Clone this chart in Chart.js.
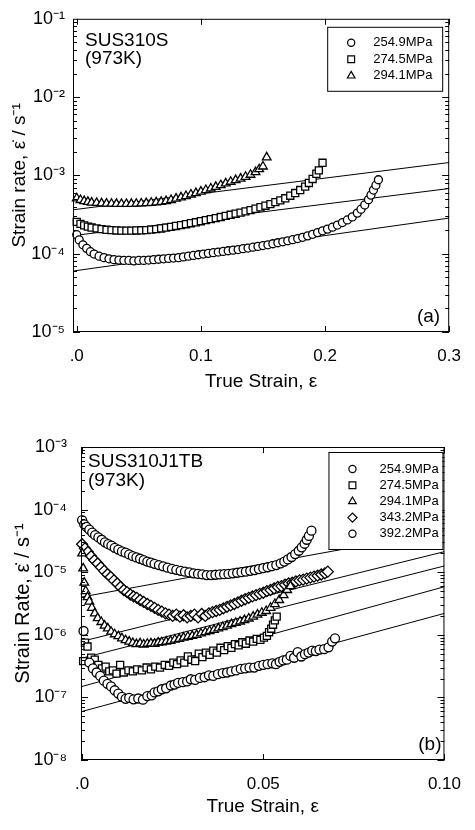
<!DOCTYPE html>
<html>
<head>
<meta charset="utf-8">
<script src="https://cdn.jsdelivr.net/npm/chart.js@4.4.1/dist/chart.umd.min.js"></script>
<style>
  html, body { margin: 0; padding: 0; background: #fff; }
  canvas { display: block; }
</style>
</head>
<body>
<canvas id="chartA" width="475" height="415"></canvas>
<canvas id="chartB" width="475" height="415"></canvas>
<script>
// ---- panel (a): SUS310S, 973K ----
const stressLabelsA = ["254.9MPa", "274.5MPa", "294.1MPa"];
const xTicksA = [0, 0.1, 0.2, 0.3];
const xTickLabelsA = [".0", "0.1", "0.2", "0.3"];
const yTicksA = [1e-5, 1e-4, 1e-3, 1e-2, 1e-1];
const yTickLabelsA = ["10⁻⁵", "10⁻⁴", "10⁻³", "10⁻²", "10⁻¹"];

const a254 = [
  [0.000, 1.75e-4], [0.002, 1.5e-4], [0.005, 1.3e-4], [0.008, 1.17e-4], [0.011, 1.06e-4],
  [0.014, 9.9e-5], [0.018, 9.3e-5], [0.022, 8.9e-5], [0.026, 8.6e-5], [0.030, 8.4e-5],
  [0.034, 8.3e-5], [0.038, 8.2e-5], [0.042, 8.2e-5], [0.046, 8.1e-5], [0.050, 8.2e-5],
  [0.054, 8.2e-5], [0.058, 8.3e-5], [0.062, 8.4e-5], [0.066, 8.5e-5], [0.070, 8.6e-5],
  [0.074, 8.7e-5], [0.078, 8.8e-5], [0.082, 8.9e-5], [0.086, 9.1e-5], [0.090, 9.3e-5],
  [0.094, 9.5e-5], [0.098, 9.7e-5], [0.102, 9.9e-5], [0.106, 1.01e-4], [0.110, 1.03e-4],
  [0.114, 1.05e-4], [0.118, 1.07e-4], [0.122, 1.09e-4], [0.126, 1.11e-4], [0.130, 1.13e-4],
  [0.134, 1.16e-4], [0.138, 1.18e-4], [0.142, 1.21e-4], [0.146, 1.24e-4], [0.150, 1.27e-4],
  [0.154, 1.3e-4], [0.158, 1.34e-4], [0.162, 1.38e-4], [0.166, 1.42e-4], [0.170, 1.46e-4],
  [0.174, 1.51e-4], [0.178, 1.56e-4], [0.182, 1.62e-4], [0.186, 1.69e-4], [0.190, 1.77e-4],
  [0.194, 1.86e-4], [0.198, 1.96e-4], [0.202, 2.06e-4], [0.206, 2.18e-4], [0.210, 2.32e-4],
  [0.214, 2.5e-4], [0.218, 2.7e-4], [0.222, 2.95e-4], [0.226, 3.3e-4], [0.229, 3.7e-4],
  [0.232, 4.2e-4], [0.235, 4.9e-4], [0.237, 5.6e-4], [0.239, 6.5e-4], [0.241, 7.5e-4],
  [0.243, 8.8e-4]
];
const a274 = [
  [0.000, 2.55e-4], [0.003, 2.4e-4], [0.006, 2.3e-4], [0.009, 2.22e-4], [0.012, 2.16e-4],
  [0.016, 2.1e-4], [0.020, 2.06e-4], [0.024, 2.02e-4], [0.028, 2.0e-4], [0.032, 1.98e-4],
  [0.036, 1.97e-4], [0.040, 1.97e-4], [0.044, 1.97e-4], [0.048, 1.98e-4], [0.052, 1.99e-4],
  [0.056, 2.0e-4], [0.060, 2.03e-4], [0.064, 2.06e-4], [0.068, 2.1e-4], [0.072, 2.15e-4],
  [0.076, 2.2e-4], [0.080, 2.26e-4], [0.084, 2.32e-4], [0.088, 2.38e-4], [0.092, 2.45e-4],
  [0.096, 2.52e-4], [0.100, 2.6e-4], [0.104, 2.68e-4], [0.108, 2.76e-4], [0.112, 2.85e-4],
  [0.116, 2.94e-4], [0.120, 3.04e-4], [0.124, 3.14e-4], [0.128, 3.24e-4], [0.132, 3.35e-4],
  [0.136, 3.47e-4], [0.140, 3.6e-4], [0.144, 3.75e-4], [0.148, 3.92e-4], [0.152, 4.1e-4],
  [0.156, 4.3e-4], [0.160, 4.55e-4], [0.164, 4.8e-4], [0.168, 5.1e-4], [0.172, 5.5e-4],
  [0.176, 5.95e-4], [0.180, 6.5e-4], [0.184, 7.2e-4], [0.187, 8.0e-4], [0.190, 9.0e-4],
  [0.193, 1.05e-3], [0.195, 1.16e-3], [0.198, 1.45e-3]
];
const a294 = [
  [0.000, 5.1e-4], [0.003, 4.85e-4], [0.006, 4.7e-4], [0.009, 4.6e-4], [0.012, 4.5e-4],
  [0.016, 4.45e-4], [0.020, 4.4e-4], [0.024, 4.37e-4], [0.028, 4.35e-4], [0.032, 4.33e-4],
  [0.036, 4.32e-4], [0.040, 4.32e-4], [0.044, 4.33e-4], [0.048, 4.35e-4], [0.052, 4.38e-4],
  [0.056, 4.42e-4], [0.060, 4.47e-4], [0.064, 4.53e-4], [0.068, 4.6e-4], [0.072, 4.7e-4],
  [0.076, 4.85e-4], [0.080, 5.05e-4], [0.084, 5.25e-4], [0.088, 5.45e-4], [0.092, 5.7e-4],
  [0.096, 5.95e-4], [0.100, 6.2e-4], [0.104, 6.5e-4], [0.108, 6.8e-4], [0.112, 7.15e-4],
  [0.116, 7.5e-4], [0.120, 7.9e-4], [0.124, 8.3e-4], [0.128, 8.7e-4], [0.132, 9.1e-4],
  [0.136, 9.6e-4], [0.140, 1.02e-3], [0.144, 1.1e-3], [0.147, 1.2e-3], [0.150, 1.3e-3],
  [0.153, 1.7e-3]
];
// straight fit lines (end points)
const fitA254 = [[-0.003, 6.0e-5], [0.3, 2.85e-4]];
const fitA274 = [[-0.003, 1.7e-4], [0.3, 6.8e-4]];
const fitA294 = [[-0.003, 3.64e-4], [0.3, 1.46e-3]];

// ---- panel (b): SUS310J1TB, 973K ----
const stressLabelsB = ["254.9MPa", "274.5MPa", "294.1MPa", "343.2MPa", "392.2MPa"];
const xTicksB = [0, 0.05, 0.1];
const xTickLabelsB = [".0", "0.05", "0.10"];
const yTicksB = [1e-8, 1e-7, 1e-6, 1e-5, 1e-4, 1e-3];
const yTickLabelsB = ["10⁻⁸", "10⁻⁷", "10⁻⁶", "10⁻⁵", "10⁻⁴", "10⁻³"];

const b254 = [
  [0.0004, 1.15e-6], [0.0020, 3.6e-7], [0.0030, 2.9e-7], [0.0040, 2.5e-7], [0.0050, 2.2e-7],
  [0.0060, 1.85e-7], [0.0070, 1.65e-7], [0.0080, 1.5e-7], [0.0090, 1.3e-7], [0.0100, 1.15e-7],
  [0.0110, 1.02e-7], [0.0120, 9.5e-8], [0.0130, 9.8e-8], [0.0142, 9.3e-8], [0.0155, 9.6e-8],
  [0.0168, 9.2e-8], [0.0180, 1.05e-7], [0.0192, 1.08e-7], [0.0200, 1.2e-7], [0.0210, 1.25e-7],
  [0.0220, 1.35e-7], [0.0232, 1.4e-7], [0.0245, 1.55e-7], [0.0255, 1.6e-7], [0.0265, 1.7e-7],
  [0.0278, 1.75e-7], [0.0290, 1.8e-7], [0.0300, 1.95e-7], [0.0312, 1.9e-7], [0.0325, 2.05e-7],
  [0.0338, 2.1e-7], [0.0350, 2.25e-7], [0.0362, 2.2e-7], [0.0375, 2.35e-7], [0.0388, 2.45e-7],
  [0.0400, 2.5e-7], [0.0412, 2.6e-7], [0.0425, 2.7e-7], [0.0438, 2.85e-7], [0.0450, 2.9e-7],
  [0.0462, 3.0e-7], [0.0475, 3.0e-7], [0.0488, 3.2e-7], [0.0500, 3.3e-7], [0.0512, 3.4e-7],
  [0.0525, 3.5e-7], [0.0535, 3.4e-7], [0.0545, 3.7e-7], [0.0555, 3.9e-7], [0.0565, 4.0e-7],
  [0.0575, 4.6e-7], [0.0585, 4.3e-7], [0.0595, 5.3e-7], [0.0605, 4.5e-7], [0.0615, 4.9e-7],
  [0.0625, 5.2e-7], [0.0635, 5.6e-7], [0.0645, 5.5e-7], [0.0655, 5.8e-7], [0.0668, 5.9e-7],
  [0.0680, 6.3e-7], [0.0690, 7.8e-7], [0.0698, 8.8e-7]
];
const b274 = [
  [0.0003, 3.8e-7], [0.0008, 7.5e-7], [0.0015, 6.5e-7], [0.0025, 4.3e-7], [0.0035, 4.0e-7],
  [0.0045, 3.3e-7], [0.0055, 2.9e-7], [0.0065, 3.1e-7], [0.0075, 2.6e-7], [0.0085, 2.7e-7],
  [0.0095, 2.4e-7], [0.0105, 3.3e-7], [0.0115, 2.5e-7], [0.0128, 2.7e-7], [0.0140, 2.6e-7],
  [0.0152, 2.8e-7], [0.0165, 2.7e-7], [0.0178, 3.0e-7], [0.0190, 2.8e-7], [0.0202, 3.1e-7],
  [0.0215, 3.0e-7], [0.0228, 3.3e-7], [0.0240, 3.2e-7], [0.0252, 3.6e-7], [0.0262, 3.4e-7],
  [0.0272, 3.9e-7], [0.0282, 3.6e-7], [0.0292, 4.5e-7], [0.0302, 4.0e-7], [0.0312, 3.8e-7],
  [0.0322, 5.0e-7], [0.0332, 4.4e-7], [0.0342, 5.2e-7], [0.0352, 4.8e-7], [0.0362, 5.6e-7],
  [0.0372, 5.2e-7], [0.0382, 6.2e-7], [0.0392, 5.7e-7], [0.0402, 6.6e-7], [0.0412, 6.2e-7],
  [0.0422, 7.1e-7], [0.0432, 6.8e-7], [0.0442, 7.6e-7], [0.0452, 7.2e-7], [0.0462, 8.1e-7],
  [0.0472, 7.8e-7], [0.0482, 8.6e-7], [0.0492, 8.3e-7], [0.0502, 9.0e-7], [0.0510, 9.6e-7],
  [0.0516, 1.1e-6], [0.0522, 1.25e-6], [0.0527, 1.45e-6], [0.0532, 1.7e-6], [0.0537, 1.95e-6]
];
const b294 = [
  [0.0000, 2.0e-5], [0.0003, 1.15e-5], [0.0006, 6.8e-6], [0.0010, 5.0e-6], [0.0015, 4.0e-6],
  [0.0020, 3.4e-6], [0.0027, 2.7e-6], [0.0035, 2.2e-6], [0.0043, 1.85e-6], [0.0053, 1.6e-6],
  [0.0062, 1.4e-6], [0.0071, 1.27e-6], [0.0080, 1.12e-6], [0.0090, 1.02e-6], [0.0100, 9.5e-7],
  [0.0110, 8.8e-7], [0.0120, 8.2e-7], [0.0130, 7.8e-7], [0.0140, 7.4e-7], [0.0150, 7.1e-7],
  [0.0160, 7.3e-7], [0.0170, 7.0e-7], [0.0180, 7.2e-7], [0.0190, 7.3e-7], [0.0200, 7.2e-7],
  [0.0210, 7.5e-7], [0.0220, 7.6e-7], [0.0232, 7.8e-7], [0.0244, 8.0e-7], [0.0256, 8.4e-7],
  [0.0268, 8.6e-7], [0.0280, 9.0e-7], [0.0292, 9.3e-7], [0.0304, 9.6e-7], [0.0316, 1.0e-6],
  [0.0328, 1.05e-6], [0.0340, 1.1e-6], [0.0352, 1.15e-6], [0.0364, 1.2e-6], [0.0376, 1.27e-6],
  [0.0388, 1.33e-6], [0.0400, 1.4e-6], [0.0412, 1.48e-6], [0.0424, 1.55e-6], [0.0436, 1.63e-6],
  [0.0448, 1.72e-6], [0.0460, 1.82e-6], [0.0472, 1.95e-6], [0.0484, 2.1e-6], [0.0496, 2.25e-6],
  [0.0508, 2.4e-6], [0.0520, 2.7e-6], [0.0532, 3.1e-6], [0.0544, 3.6e-6], [0.0556, 4.3e-6],
  [0.0566, 5.2e-6], [0.0575, 6.0e-6]
];
const b343 = [
  [0.0000, 2.8e-5], [0.0008, 2.4e-5], [0.0016, 2.1e-5], [0.0025, 1.8e-5], [0.0034, 1.55e-5],
  [0.0043, 1.38e-5], [0.0052, 1.2e-5], [0.0061, 1.05e-5], [0.0070, 9.3e-6], [0.0079, 8.4e-6],
  [0.0088, 7.4e-6], [0.0097, 6.6e-6], [0.0106, 5.8e-6], [0.0115, 5.2e-6], [0.0124, 4.8e-6],
  [0.0133, 4.4e-6], [0.0142, 4.1e-6], [0.0151, 3.9e-6], [0.0160, 3.6e-6], [0.0170, 3.35e-6],
  [0.0180, 3.1e-6], [0.0190, 2.9e-6], [0.0200, 2.7e-6], [0.0210, 2.5e-6], [0.0220, 2.35e-6],
  [0.0230, 2.2e-6], [0.0240, 2.1e-6], [0.0250, 2.0e-6], [0.0260, 2.1e-6], [0.0270, 1.95e-6],
  [0.0280, 2.05e-6], [0.0290, 1.9e-6], [0.0300, 2.0e-6], [0.0310, 2.1e-6], [0.0320, 1.9e-6],
  [0.0330, 2.15e-6], [0.0340, 2.0e-6], [0.0350, 2.2e-6], [0.0360, 2.3e-6], [0.0370, 2.4e-6],
  [0.0380, 2.5e-6], [0.0390, 2.65e-6], [0.0400, 2.8e-6], [0.0410, 2.95e-6], [0.0420, 3.1e-6],
  [0.0430, 3.3e-6], [0.0440, 3.5e-6], [0.0450, 3.7e-6], [0.0460, 3.9e-6], [0.0470, 4.1e-6],
  [0.0480, 4.3e-6], [0.0490, 4.5e-6], [0.0500, 4.7e-6], [0.0510, 5.0e-6], [0.0520, 5.2e-6],
  [0.0530, 5.5e-6], [0.0540, 5.8e-6], [0.0550, 6.0e-6], [0.0560, 6.3e-6], [0.0570, 6.6e-6],
  [0.0580, 6.8e-6], [0.0590, 7.1e-6], [0.0600, 7.4e-6], [0.0610, 7.6e-6], [0.0620, 7.9e-6],
  [0.0630, 8.2e-6], [0.0640, 8.5e-6], [0.0650, 8.8e-6], [0.0660, 9.2e-6], [0.0670, 9.6e-6],
  [0.0678, 1.02e-5]
];
const b392 = [
  [0.0000, 6.8e-5], [0.0006, 5.8e-5], [0.0012, 5.3e-5], [0.0020, 4.8e-5], [0.0028, 4.3e-5],
  [0.0036, 3.9e-5], [0.0045, 3.6e-5], [0.0054, 3.3e-5], [0.0063, 3.0e-5], [0.0072, 2.8e-5],
  [0.0081, 2.65e-5], [0.0090, 2.45e-5], [0.0100, 2.3e-5], [0.0110, 2.15e-5], [0.0120, 2.05e-5],
  [0.0130, 1.92e-5], [0.0140, 1.8e-5], [0.0150, 1.72e-5], [0.0160, 1.64e-5], [0.0170, 1.56e-5],
  [0.0180, 1.48e-5], [0.0190, 1.42e-5], [0.0200, 1.36e-5], [0.0212, 1.3e-5], [0.0224, 1.24e-5],
  [0.0236, 1.18e-5], [0.0248, 1.13e-5], [0.0260, 1.09e-5], [0.0272, 1.05e-5], [0.0284, 1.02e-5],
  [0.0296, 9.9e-6], [0.0308, 9.6e-6], [0.0320, 9.4e-6], [0.0332, 9.2e-6], [0.0344, 9.0e-6],
  [0.0356, 9.0e-6], [0.0368, 9.1e-6], [0.0380, 9.2e-6], [0.0392, 9.3e-6], [0.0404, 9.4e-6],
  [0.0416, 9.6e-6], [0.0428, 9.8e-6], [0.0440, 1.0e-5], [0.0452, 1.02e-5], [0.0464, 1.05e-5],
  [0.0476, 1.08e-5], [0.0488, 1.12e-5], [0.0500, 1.16e-5], [0.0512, 1.2e-5], [0.0524, 1.25e-5],
  [0.0536, 1.3e-5], [0.0548, 1.38e-5], [0.0558, 1.48e-5], [0.0568, 1.6e-5], [0.0578, 1.75e-5],
  [0.0588, 1.95e-5], [0.0598, 2.2e-5], [0.0606, 2.5e-5], [0.0614, 2.85e-5], [0.0620, 3.3e-5],
  [0.0626, 3.8e-5], [0.0633, 4.6e-5]
];
const fitB254 = [[-0.0003, 5.9e-8], [0.1, 2.2e-6]];
const fitB274 = [[-0.0003, 1.48e-7], [0.1, 5.86e-6]];
const fitB294 = [[-0.0003, 4.2e-7], [0.1, 1.26e-5]];
const fitB343 = [[-0.0003, 7.8e-7], [0.1, 2.13e-5]];
const fitB392 = [[-0.0003, 4.0e-6], [0.1, 4.6e-5]];

const FONT = "'Liberation Sans', Arial, Helvetica, sans-serif";

// turn [x, y] pairs into chart points
function toPoints(arr) {
  return arr.map(([x, y]) => ({ x: x, y: y }));
}

function markerSet(label, arr, style, radius) {
  return {
    type: "scatter",
    label: label,
    data: toPoints(arr),
    pointStyle: style,
    pointRadius: radius,
    pointBorderWidth: 1.3,
    pointBorderColor: "#000",
    pointBackgroundColor: "#fff",
    showLine: false,
    order: 1,
    clip: false,
    inLegend: true
  };
}

function fitLine(arr) {
  return {
    type: "line",
    label: "",
    data: toPoints(arr),
    borderColor: "#000",
    borderWidth: 1,
    pointRadius: 0,
    fill: false,
    tension: 0,
    order: 2
  };
}

// legend marker size per point style
const legendRadius = { circle: 3.6, rect: 4.8, triangle: 4.4, rectRot: 4.6 };

// frame, inward ticks, notes and the boxed legend
const paperPlugin = {
  id: "paper",
  afterDatasetsDraw(chart, args, opts) {
    const { ctx, chartArea: a } = chart;
    const xs = chart.scales.x;
    const ys = chart.scales.y;
    const seg = (x1, y1, x2, y2) => {
      ctx.beginPath();
      ctx.moveTo(x1, y1);
      ctx.lineTo(x2, y2);
      ctx.stroke();
    };
    ctx.save();
    ctx.strokeStyle = "#000";
    ctx.lineWidth = 1;
    ctx.strokeRect(a.left + 0.5, a.top + 0.5, a.right - a.left - 1, a.bottom - a.top - 1);

    // log ticks on left and right
    const e0 = Math.round(Math.log10(ys.min));
    const e1 = Math.round(Math.log10(ys.max));
    for (let e = e0; e < e1; e++) {
      for (let m = 1; m < 10; m++) {
        const py = Math.round(ys.getPixelForValue(m * Math.pow(10, e))) + 0.5;
        const len = m === 1 ? 7 : 4;
        seg(a.left, py, a.left + len, py);
        seg(a.right - len, py, a.right, py);
      }
    }
    // x ticks top and bottom
    opts.xTicks.forEach((v) => {
      const px = Math.round(xs.getPixelForValue(v)) + 0.5;
      seg(px, a.bottom, px, a.bottom - 6);
      seg(px, a.top, px, a.top + 6);
    });

    // notes
    ctx.fillStyle = "#000";
    ctx.textBaseline = "middle";
    opts.notes.forEach((n) => {
      ctx.font = n.size + "px " + FONT;
      ctx.textAlign = n.align;
      const px = n.align === "right" ? a.right + n.dx : a.left + n.dx;
      const py = n.fromBottom ? a.bottom + n.dy : a.top + n.dy;
      ctx.fillText(n.text, px, py);
    });

    // legend box
    const lg = opts.legend;
    const bx = a.right - lg.right - lg.width;
    const by = a.top + lg.top;
    ctx.fillStyle = "#fff";
    ctx.fillRect(bx, by, lg.width, lg.height);
    ctx.strokeRect(bx + 0.5, by + 0.5, lg.width, lg.height);
    ctx.font = lg.size + "px " + FONT;
    ctx.textAlign = "left";
    const items = chart.data.datasets.filter((d) => d.inLegend);
    items.forEach((d, i) => {
      const ry = by + lg.first + i * lg.step;
      ctx.fillStyle = "#fff";
      ctx.strokeStyle = "#000";
      ctx.lineWidth = 1.2;
      Chart.helpers.drawPoint(ctx, { pointStyle: d.pointStyle, radius: legendRadius[d.pointStyle], rotation: 0, borderWidth: 1.2 }, bx + lg.markerX, ry);
      ctx.fillStyle = "#000";
      ctx.fillText(d.label, bx + lg.textX, ry);
    });
    ctx.restore();
  }
};

function buildChart(id, cfg) {
  const ctx = document.getElementById(id).getContext("2d");
  return new Chart(ctx, {
    type: "scatter",
    data: { datasets: cfg.datasets },
    options: {
      responsive: false,
      animation: false,
      devicePixelRatio: 1,
      layout: { padding: cfg.padding },
      plugins: {
        legend: { display: false },
        tooltip: { enabled: false },
        paper: { xTicks: cfg.xTicks, notes: cfg.notes, legend: cfg.legend }
      },
      scales: {
        x: {
          type: "linear",
          min: cfg.xMin,
          max: cfg.xMax,
          afterBuildTicks: (s) => { s.ticks = cfg.xTicks.map((v) => ({ value: v })); },
          afterFit: (s) => { s.height = cfg.xHeight; },
          grid: { display: false, drawTicks: false },
          border: { display: false },
          ticks: {
            color: "#000",
            padding: cfg.xPad,
            maxRotation: 0,
            font: { family: FONT, size: 17 },
            callback: (v, i) => cfg.xLabels[i]
          },
          title: {
            display: true,
            text: "True Strain, ε",
            color: "#000",
            font: { family: FONT, size: 19 },
            padding: { top: 0, bottom: cfg.xTitlePad }
          }
        },
        y: {
          type: "logarithmic",
          min: cfg.yTicks[0],
          max: cfg.yTicks[cfg.yTicks.length - 1],
          afterBuildTicks: (s) => { s.ticks = cfg.yTicks.map((v) => ({ value: v })); },
          afterFit: (s) => { s.width = cfg.yWidth; },
          grid: { display: false, drawTicks: false },
          border: { display: false },
          ticks: {
            color: "#000",
            padding: cfg.yPad,
            font: { family: FONT, size: 18 },
            callback: (v, i) => cfg.yLabels[i]
          },
          title: {
            display: true,
            text: cfg.yTitle,
            color: "#000",
            font: { family: FONT, size: cfg.yTitleSize },
            padding: { top: cfg.yTitlePad, bottom: 0 }
          }
        }
      }
    },
    plugins: [paperPlugin]
  });
}

buildChart("chartA", {
  datasets: [
    markerSet(stressLabelsA[0], a254, "circle", 4),
    markerSet(stressLabelsA[1], a274, "rect", 5),
    markerSet(stressLabelsA[2], a294, "triangle", 5),
    fitLine(fitA254), fitLine(fitA274), fitLine(fitA294)
  ],
  padding: { top: 15, right: 21, left: 0, bottom: 0 },
  xMin: -0.003, xMax: 0.3,
  xTicks: xTicksA, xLabels: xTickLabelsA,
  yTicks: yTicksA, yLabels: yTickLabelsA,
  xHeight: 83, xPad: 14, xTitlePad: 22,
  yWidth: 73, yPad: 8, yTitlePad: 8, yTitleSize: 19,
  yTitle: "Strain rate, ε̇ / s⁻¹",
  notes: [
    { text: "SUS310S", size: 19, align: "left", dx: 12, dy: 22 },
    { text: "(973K)", size: 19, align: "left", dx: 12, dy: 40 },
    { text: "(a)", size: 19, align: "right", dx: -9, dy: -15, fromBottom: true }
  ],
  legend: { right: 7, width: 115, top: 8, height: 64, first: 16, step: 16.5, markerX: 24, textX: 46, size: 13 }
});

buildChart("chartB", {
  datasets: [
    markerSet(stressLabelsB[0], b254, "circle", 4.5),
    markerSet(stressLabelsB[1], b274, "rect", 5),
    markerSet(stressLabelsB[2], b294, "triangle", 5),
    markerSet(stressLabelsB[3], b343, "rectRot", 5.5),
    markerSet(stressLabelsB[4], b392, "circle", 4.5),
    fitLine(fitB254), fitLine(fitB274), fitLine(fitB294), fitLine(fitB343), fitLine(fitB392)
  ],
  padding: { top: 32, right: 20, left: 0, bottom: 0 },
  xMin: -0.0003, xMax: 0.1,
  xTicks: xTicksB, xLabels: xTickLabelsB,
  yTicks: yTicksB, yLabels: yTickLabelsB,
  xHeight: 70, xPad: 14, xTitlePad: 12,
  yWidth: 81, yPad: 14, yTitlePad: 11, yTitleSize: 20,
  yTitle: "Strain Rate, ε̇ / s⁻¹",
  notes: [
    { text: "SUS310J1TB", size: 19, align: "left", dx: 7, dy: 15 },
    { text: "(973K)", size: 19, align: "left", dx: 7, dy: 34 },
    { text: "(b)", size: 19, align: "right", dx: -3, dy: -15, fromBottom: true }
  ],
  legend: { right: 2, width: 114, top: 5, height: 97, first: 17, step: 16.2, markerX: 24, textX: 51, size: 13 }
});
</script>
</body>
</html>
